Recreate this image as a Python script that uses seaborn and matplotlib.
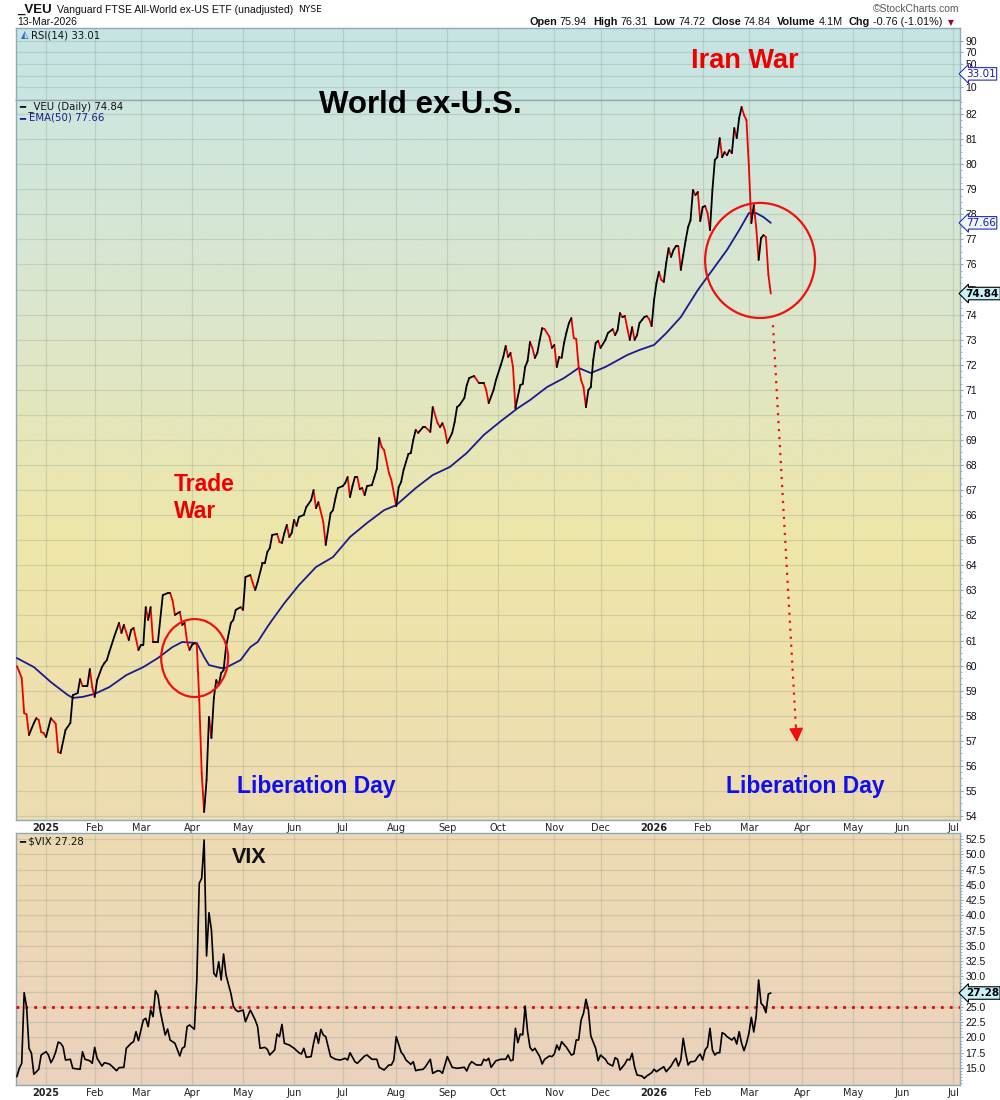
import numpy as np
import pandas as pd
import matplotlib
matplotlib.use("Agg")
import matplotlib.pyplot as plt
import matplotlib.transforms as mtransforms
from matplotlib.patches import Ellipse
from matplotlib.colors import LinearSegmentedColormap
from matplotlib.ticker import MultipleLocator
import seaborn as sns

# ---------------- data (session index: trading days since 2 Jan 2025) ----------------
veu_session = [-12, -11, -10, -9, -8, -7, -5, -4, -3, -2, -1, 0, 2, 4, 5, 6, 8, 10, 11, 13,
               14, 15, 17, 18, 19, 20, 21, 23, 24, 25, 26, 28, 30, 31, 32, 34, 35, 36, 38, 39,
               40, 41, 42, 43, 44, 46, 48, 50, 51, 52, 53, 55, 56, 57, 58, 59, 60, 61, 62, 63,
               64, 65, 66, 67, 68, 69, 70, 71, 72, 73, 74, 76, 77, 78, 80, 81, 82, 84, 85, 86,
               87, 89, 90, 91, 92, 93, 95, 96, 97, 98, 99, 100, 101, 102, 103, 104, 106, 107, 109, 110,
               111, 112, 114, 115, 117, 118, 119, 120, 122, 123, 124, 125, 126, 127, 128, 129, 130, 131, 132, 134,
               135, 136, 137, 138, 139, 141, 142, 143, 144, 145, 146, 147, 148, 149, 150, 151, 152, 153, 155, 156,
               158, 159, 161, 162, 163, 164, 165, 167, 168, 169, 170, 172, 173, 174, 176, 178, 180, 181, 182, 184,
               185, 187, 188, 189, 190, 191, 192, 193, 195, 196, 197, 198, 199, 200, 201, 202, 203, 204, 205, 207,
               208, 209, 210, 211, 212, 213, 214, 215, 216, 217, 218, 219, 220, 221, 222, 223, 224, 225, 226, 227,
               228, 230, 231, 233, 234, 235, 236, 237, 238, 239, 240, 241, 242, 243, 244, 245, 246, 247, 248, 249,
               250, 251, 252, 253, 254, 255, 256, 257, 258, 259, 260, 261, 262, 263, 264, 265, 266, 267, 268, 269,
               270, 271, 272, 273, 274, 275, 276, 277, 278, 279, 280, 281, 282, 283, 284, 285, 286, 287, 288, 289,
               290, 291, 292, 293, 294, 295, 296, 297, 298]
veu_close = [59.98, 59.75, 59.50, 58.11, 58.05, 57.23, 57.71, 57.90, 57.83, 57.35, 57.31, 57.15, 57.90, 57.67, 56.55, 56.51, 57.43, 57.71, 58.82, 58.90,
             59.46, 59.18, 59.18, 59.86, 59.14, 58.75, 59.42, 59.94, 60.10, 60.22, 60.54, 61.14, 61.70, 61.30, 61.62, 61.02, 61.42, 61.50, 60.62, 60.82,
             60.82, 62.33, 61.82, 62.33, 60.94, 60.94, 62.81, 62.89, 62.89, 62.61, 62.02, 62.14, 61.62, 61.70, 60.94, 60.62, 60.82, 60.90, 60.82, 58.63,
             55.71, 54.16, 55.43, 57.95, 57.11, 58.71, 59.42, 59.22, 59.70, 59.82, 60.74, 61.70, 61.82, 62.22, 62.33, 62.22, 63.53, 63.61, 63.29, 63.01,
             63.33, 64.09, 64.09, 64.53, 64.69, 65.21, 65.25, 64.93, 64.89, 65.29, 65.61, 65.13, 65.29, 65.81, 65.57, 65.93, 66.01, 66.32, 66.60, 67.00,
             66.28, 66.52, 65.73, 64.81, 66.08, 66.20, 66.68, 67.08, 67.16, 67.28, 67.52, 66.72, 67.16, 67.52, 67.52, 67.04, 67.08, 66.80, 67.16, 67.20,
             67.52, 67.84, 69.08, 68.72, 68.60, 67.68, 67.40, 66.88, 66.36, 67.12, 67.32, 67.80, 68.12, 68.44, 68.48, 69.00, 69.40, 69.28, 69.51, 69.51,
             69.32, 70.31, 69.67, 69.51, 69.67, 69.40, 68.88, 69.28, 69.71, 70.31, 70.39, 70.67, 71.19, 71.47, 71.55, 71.27, 71.27, 70.99, 70.47, 70.99,
             71.39, 71.99, 72.31, 72.75, 72.31, 72.47, 71.91, 70.27, 71.19, 71.23, 71.91, 72.15, 72.91, 72.67, 72.27, 72.47, 72.99, 73.46, 73.42, 73.11,
             72.67, 72.79, 71.91, 72.31, 72.27, 72.87, 73.30, 73.66, 73.86, 73.06, 73.03, 71.91, 71.39, 71.11, 70.31, 70.99, 71.11, 72.19, 72.87, 72.95,
             72.67, 72.99, 73.26, 73.42, 73.18, 73.38, 74.06, 73.90, 73.94, 73.46, 72.99, 73.50, 72.99, 73.18, 73.66, 73.78, 73.90, 73.94, 73.82, 73.54,
             74.58, 75.26, 75.70, 75.38, 75.30, 76.06, 76.65, 76.30, 76.58, 76.73, 76.73, 75.78, 76.38, 76.97, 77.49, 77.77, 78.97, 78.77, 78.89, 77.73,
             78.29, 78.33, 78.05, 77.37, 78.97, 80.17, 80.28, 81.04, 80.28, 80.48, 80.36, 80.56, 80.44, 81.44, 81.04, 81.84, 82.28, 81.96, 81.76, 79.89,
             77.65, 78.37, 77.49, 76.18, 77.05, 77.17, 77.09, 75.60, 74.84]

ema_session = [-12, -5, 2, 9, 11, 15, 20, 26, 33, 40, 46, 52, 56, 62, 65, 67, 72, 74, 80, 84,
               87, 91, 93, 98, 104, 111, 118, 125, 132, 139, 144, 152, 159, 166, 173, 180, 187, 194, 199, 206,
               213, 219, 224, 230, 239, 244, 250, 255, 261, 268, 274, 280, 285, 289, 292, 295, 298]
ema_value = [60.30, 59.94, 59.34, 58.82, 58.71, 58.75, 58.87, 59.14, 59.62, 59.94, 60.30, 60.74, 60.94, 60.90, 60.34, 60.02, 59.90, 59.92, 60.22, 60.74,
             60.94, 61.54, 61.82, 62.49, 63.21, 63.93, 64.33, 65.13, 65.69, 66.20, 66.40, 67.08, 67.60, 67.92, 68.48, 69.20, 69.75, 70.27, 70.59, 71.11,
             71.47, 71.87, 71.67, 71.91, 72.39, 72.59, 72.79, 73.26, 73.90, 74.98, 75.78, 76.58, 77.37, 78.05, 78.05, 77.89, 77.66]

vix_session = [-12, -11, -10, -9, -8, -7, -6, -5, -3, -2, 0, 1, 2, 3, 4, 5, 6, 7, 8, 10,
               11, 14, 15, 16, 18, 19, 20, 21, 23, 24, 26, 27, 29, 30, 32, 33, 35, 36, 37, 38,
               40, 41, 42, 43, 44, 45, 46, 47, 48, 49, 50, 51, 53, 55, 56, 57, 58, 59, 61, 62,
               63, 64, 65, 66, 67, 68, 69, 70, 71, 72, 73, 74, 76, 77, 78, 79, 81, 82, 84, 86,
               87, 88, 90, 91, 92, 94, 95, 96, 97, 98, 100, 102, 104, 105, 106, 107, 109, 110, 111, 112,
               113, 114, 115, 117, 119, 121, 123, 124, 125, 127, 128, 131, 132, 134, 136, 137, 139, 141, 142, 143,
               144, 146, 147, 148, 150, 151, 152, 153, 155, 156, 158, 159, 161, 162, 163, 165, 167, 169, 172, 173,
               174, 175, 177, 179, 180, 181, 182, 183, 185, 187, 189, 190, 191, 192, 193, 194, 195, 196, 197, 198,
               199, 200, 201, 203, 204, 205, 207, 208, 209, 210, 211, 212, 214, 216, 217, 218, 219, 220, 221, 222,
               223, 224, 226, 227, 228, 230, 231, 233, 234, 235, 236, 238, 239, 240, 241, 242, 243, 245, 246, 247,
               249, 250, 251, 252, 254, 255, 257, 258, 259, 260, 261, 262, 263, 264, 265, 266, 267, 268, 269, 270,
               271, 272, 273, 274, 275, 276, 277, 278, 279, 280, 282, 283, 284, 285, 286, 287, 288, 289, 290, 291,
               292, 293, 294, 295, 296, 297, 298]
vix_close = [13.58, 14.95, 15.77, 27.33, 25.04, 18.23, 17.41, 13.97, 14.79, 17.13, 17.67, 17.13, 15.87, 16.59, 17.67, 19.26, 19.05, 18.49, 16.31, 16.43,
             14.95, 14.79, 17.67, 16.43, 16.19, 15.77, 18.38, 16.59, 15.33, 15.87, 15.66, 15.33, 14.56, 15.05, 15.12, 18.23, 19.05, 19.31, 20.95, 19.48,
             22.86, 23.14, 21.77, 24.50, 23.41, 27.66, 26.96, 24.23, 22.32, 20.41, 21.39, 19.59, 19.05, 16.97, 18.23, 18.49, 21.77, 22.05, 21.34, 29.41,
             45.25, 46.06, 52.34, 33.34, 40.43, 37.60, 30.51, 29.96, 32.41, 29.41, 33.67, 30.23, 27.23, 25.15, 24.50, 24.23, 24.50, 22.58, 24.50, 22.86,
             21.77, 18.23, 18.38, 18.05, 17.13, 17.95, 20.57, 20.14, 22.14, 19.05, 18.77, 18.23, 17.50, 17.29, 18.23, 16.76, 16.87, 19.05, 20.79, 19.05,
             21.34, 20.41, 20.14, 16.87, 16.43, 16.31, 16.59, 16.31, 17.50, 16.04, 15.77, 16.97, 17.13, 16.43, 16.43, 15.12, 14.68, 15.50, 15.50, 16.31,
             20.14, 17.60, 17.10, 16.31, 15.60, 16.04, 14.56, 14.68, 14.79, 15.21, 16.43, 14.13, 14.56, 14.51, 14.13, 16.87, 15.12, 14.95, 15.12, 14.51,
             15.50, 16.04, 15.50, 15.50, 16.43, 16.19, 16.59, 15.12, 16.19, 16.43, 16.43, 17.13, 16.19, 16.31, 21.50, 19.15, 20.57, 20.41, 25.15, 20.95,
             18.38, 17.83, 18.23, 16.87, 15.66, 16.43, 16.97, 16.87, 17.29, 18.77, 17.95, 19.31, 18.38, 17.13, 17.29, 19.59, 19.59, 22.86, 23.96, 26.25,
             24.50, 20.24, 18.23, 16.19, 17.13, 16.43, 15.77, 15.33, 16.69, 16.43, 14.68, 15.66, 16.43, 16.31, 17.41, 15.21, 13.86, 13.69, 13.31, 13.69,
             14.23, 14.79, 14.40, 14.68, 15.21, 14.40, 15.33, 16.04, 16.59, 15.33, 16.31, 19.86, 17.41, 15.50, 16.04, 16.04, 16.19, 16.87, 17.29, 16.31,
             17.95, 18.49, 21.50, 17.95, 17.13, 17.50, 17.50, 20.79, 20.57, 20.14, 19.59, 20.03, 18.93, 20.95, 19.05, 17.83, 19.05, 20.68, 23.30, 20.90,
             23.52, 29.41, 25.60, 25.15, 24.06, 27.12, 27.28]

price_ticks = [54, 55, 56, 57, 58, 59, 60, 61, 62, 63, 64, 65, 66, 67, 68, 69, 70, 71, 72, 73, 74, 75, 76, 77, 78, 79, 80, 81, 82]
vix_ticks = [15.0, 17.5, 20.0, 22.5, 25.0, 27.5, 30.0, 32.5, 35.0, 37.5, 40.0, 42.5, 45.0, 47.5, 50.0, 52.5]
rsi_grid = [10, 30, 50, 70, 90]
rsi_labels = ["10", "", "50", "70", "90"]
month_abbr = ["Jan", "Feb", "Mar", "Apr", "May", "Jun", "Jul", "Aug", "Sep", "Oct", "Nov", "Dec"]
nyse_holidays = ["2024-12-25", "2025-01-01", "2025-01-09", "2025-01-20", "2025-02-17", "2025-04-18",
                 "2025-05-26", "2025-06-19", "2025-07-04", "2025-09-01", "2025-11-27", "2025-12-25",
                 "2026-01-01", "2026-01-19", "2026-02-16", "2026-04-03", "2026-05-25", "2026-06-19",
                 "2026-07-03"]
last_close, last_ema, last_rsi, last_vix = 74.84, 77.66, 33.01, 27.28
vix_alert = 25.0

# ---------------- figure ----------------
sns.set_theme(style="white")
plt.rcParams['font.family'] = ['Liberation Sans', 'DejaVu Sans']

W, H = 1000, 1100
fig = plt.figure(figsize=(W / 100, H / 100), dpi=100)
fig.patch.set_facecolor("white")


def fx(p):
    return p / W


def fy(p):
    return 1 - p / H


L, R = 16, 960


def add_axes(top, bottom):
    return fig.add_axes([fx(L), fy(bottom), (R - L) / W, (bottom - top) / H])


ax_rsi = add_axes(28, 100)
ax = add_axes(100, 820)
ax_vix = add_axes(833, 1085)

# trading calendar -> month ticks
sessions = pd.bdate_range("2024-12-13", "2026-07-31", freq="C", holidays=nyse_holidays)
origin = sessions.get_loc(pd.Timestamp("2025-01-02"))
sess_idx = pd.Series(np.arange(len(sessions)) - origin, index=sessions)
firsts = sess_idx.groupby([sessions.year, sessions.month]).first()
firsts = firsts[[k >= (2025, 1) for k in firsts.index]]
month_pos = list(firsts.values)
month_lab = [str(y) if m == 1 else month_abbr[m - 1] for (y, m) in firsts.index]


def gradient(a, stops):
    cmap = LinearSegmentedColormap.from_list("g", stops)
    a.imshow(np.linspace(0, 1, 256).reshape(-1, 1), cmap=cmap, aspect="auto",
             extent=[0, 1, 0, 1], transform=a.transAxes, zorder=0, origin="upper",
             interpolation="bilinear")


gradient(ax_rsi, [(0, "#c5e4e4"), (1, "#cbe6e1")])
gradient(ax, [(0, "#cde6df"), (0.3, "#dce6cc"), (0.62, "#efe6a8"), (1, "#eedcb2")])
gradient(ax_vix, [(0, "#eedbb2"), (1, "#ebd2bd")])

# price line coloured by direction
rows = []
for k in range(1, len(veu_close)):
    d = "down" if veu_close[k] < veu_close[k - 1] else "up"
    rows.append((k, veu_session[k - 1], veu_close[k - 1], d))
    rows.append((k, veu_session[k], veu_close[k], d))
seg = pd.DataFrame(rows, columns=["seg", "session", "close", "dir"])
ema_df = pd.DataFrame({"session": ema_session, "ema": ema_value})
vix_df = pd.DataFrame({"session": vix_session, "vix": vix_close})

sns.lineplot(data=ema_df, x="session", y="ema", color="#1b1b8c", linewidth=1.3, ax=ax, zorder=3)
sns.lineplot(data=seg, x="session", y="close", hue="dir", units="seg", estimator=None,
             palette={"up": "#000000", "down": "#ee0000"}, legend=False, linewidth=1.3,
             ax=ax, sort=False, zorder=4)
sns.lineplot(data=vix_df, x="session", y="vix", color="black", linewidth=1.2, ax=ax_vix, zorder=4)
ax_vix.axhline(vix_alert, color="#ee0000", lw=2.0, ls=(0, (1, 2.2)), zorder=3)

grid_kw = dict(color="#8a9e8a", alpha=0.3, lw=0.9)
for a in (ax_rsi, ax, ax_vix):
    a.set_xlim(-12.35, 375.8)
    a.set_xlabel("")
    a.set_ylabel("")
    for sp in a.spines.values():
        sp.set_color("#8eaab4")
        sp.set_linewidth(1.0)
    a.yaxis.tick_right()
    a.set_xticks(month_pos)
    a.set_axisbelow(True)
    a.grid(True, which="major", **grid_kw)
    a.tick_params(axis="y", which="major", direction="out", length=2.5, width=0.8,
                  color="#8eaab4", labelsize=7.5, pad=1.5, labelcolor="#111111")
    a.tick_params(axis="x", length=0, labelsize=7, pad=2, labelcolor="#222222")

ax_rsi.set_ylim(-12, 112)
ax_rsi.set_yticks(rsi_grid)
ax_rsi.set_yticklabels(rsi_labels)
ax_rsi.set_xticklabels([])

ax.set_ylim(53.84, 82.56)
ax.set_yticks(price_ticks)
ax.set_yticklabels([str(t) for t in price_ticks])
ax.yaxis.set_minor_locator(MultipleLocator(0.25))
ax.tick_params(axis="y", which="minor", direction="out", length=1.2, width=0.6, color="#8eaab4")

ax_vix.set_ylim(12.22, 53.48)
ax_vix.set_yticks(vix_ticks)
ax_vix.set_yticklabels([f"{t:.1f}" for t in vix_ticks])
ax_vix.yaxis.set_minor_locator(MultipleLocator(0.5))
ax_vix.tick_params(axis="y", which="minor", direction="out", length=1.2, width=0.6, color="#8eaab4")

for a in (ax, ax_vix):
    a.set_xticklabels(month_lab)
    for t in a.get_xticklabels():
        t.set_fontfamily("DejaVu Sans")
        if t.get_text().isdigit():
            t.set_fontweight("bold")

# ---------------- value tags on right ----------------
def tag(a, y, txt, fc, ec, color, bold=False):
    tr = mtransforms.blended_transform_factory(a.transAxes, a.transData)
    a.text(1.006, y, txt, transform=tr, ha="left", va="center", fontsize=7.5,
           fontfamily="DejaVu Sans", fontweight="bold" if bold else "normal", color=color,
           bbox=dict(boxstyle="larrow,pad=0.12", fc=fc, ec=ec, lw=0.8),
           clip_on=False, zorder=10)


tag(ax_rsi, last_rsi, f"{last_rsi:.2f}", "#ffffff", "#2a2acc", "#1b1b9c")
tag(ax, last_ema, f"{last_ema:.2f}", "#eef8fb", "#2a2acc", "#1b1b9c")
tag(ax, last_close, f"{last_close:.2f}", "#c9f1f8", "#000000", "#000000", bold=True)
tag(ax_vix, last_vix, f"{last_vix:.2f}", "#c9f1f8", "#000000", "#000000", bold=True)

# ---------------- annotations ----------------
ax.add_patch(Ellipse((61.1, 60.30), 27.5, 3.11, fill=False, ec="#ee1111", lw=1.6, zorder=6))
ax.add_patch(Ellipse((293.6, 76.16), 45.2, 4.59, fill=False, ec="#ee1111", lw=1.6, zorder=6))
ax.plot([298.9, 308.4], [73.58, 57.4], color="#ee1111", lw=1.6, ls=(0, (1, 2.6)), zorder=6)
ax.annotate("", xy=(308.8, 56.83), xytext=(308.3, 57.7),
            arrowprops=dict(arrowstyle="-|>,head_length=0.7,head_width=0.35", color="#ee1111", lw=1.2),
            zorder=6)

big = dict(fontweight="bold", family=["Liberation Sans", "DejaVu Sans"], va="baseline")
fig.text(fx(319), fy(113), "World ex-U.S.", fontsize=22.5, color="black", **big)
fig.text(fx(691), fy(68), "Iran War", fontsize=19.5, color="#ee0000", **big)
fig.text(fx(174), fy(491), "Trade", fontsize=16.5, color="#ee0000", **big)
fig.text(fx(174), fy(518), "War", fontsize=16.5, color="#ee0000", **big)
fig.text(fx(237), fy(793), "Liberation Day", fontsize=16.5, color="#1010ee", **big)
fig.text(fx(726), fy(793), "Liberation Day", fontsize=16.5, color="#1010ee", **big)
fig.text(fx(232), fy(863), "VIX", fontsize=15.5, color="#111111", **big)

# ---------------- legends inside panels ----------------
small = dict(fontsize=7.3, family="DejaVu Sans", va="center", ha="left")
fig.text(fx(31), fy(35), "RSI(14) 33.01", color="#111111", **small)
fig.text(fx(21), fy(35), "\u25ed", color="#3a5fd0", fontsize=7, family="DejaVu Sans", va="center")
fig.text(fx(19), fy(107), "\u2501 _VEU (Daily) 74.84", color="#111111", **small)
fig.text(fx(19), fy(118), "\u2501", color="#1b1b8c", **small)
fig.text(fx(29), fy(118), "EMA(50) 77.66", color="#1b1b8c", **small)
fig.text(fx(19), fy(841), "\u2501 \\$VIX 27.28", color="#111111", **small)

# ---------------- header ----------------
renderer = fig.canvas.get_renderer()
head = [("_VEU", 9.5, "bold", "Liberation Sans", 5),
        ("Vanguard FTSE All-World ex-US ETF (unadjusted)", 7.6, "normal", "Liberation Sans", 5),
        ("NYSE", 6.6, "normal", "DejaVu Sans", 0)]
xpos = 17
for txt, size, weight, fam, gap in head:
    t = fig.text(fx(xpos), fy(10), txt, fontsize=size, fontweight=weight, family=fam,
                 va="center", ha="left", color="#111111")
    xpos += t.get_window_extent(renderer=renderer).width + gap
fig.text(fx(17), fy(22), "13-Mar-2026", fontsize=7.5, va="center", color="#111111")
fig.text(fx(959), fy(9), "\u00a9StockCharts.com", fontsize=7.5, va="center", ha="right", color="#555555")

runs = [("Open", True), ("75.94", False), ("High", True), ("76.31", False), ("Low", True),
        ("74.72", False), ("Close", True), ("74.84", False), ("Volume", True), ("4.1M", False),
        ("Chg", True), ("-0.76 (-1.01%)", False)]
xpos = 529
for txt, b in runs:
    t = fig.text(fx(xpos), fy(22), txt, fontsize=7.8, fontweight="bold" if b else "normal",
                 va="center", ha="left", color="#111111")
    w = t.get_window_extent(renderer=renderer).width
    xpos += w + (3 if b else 6)
fig.text(fx(xpos), fy(22.5), "\u25bc", fontsize=5.5, va="center", ha="left",
         family="DejaVu Sans", color="#990033")

fig.savefig("out.png", dpi=100)
